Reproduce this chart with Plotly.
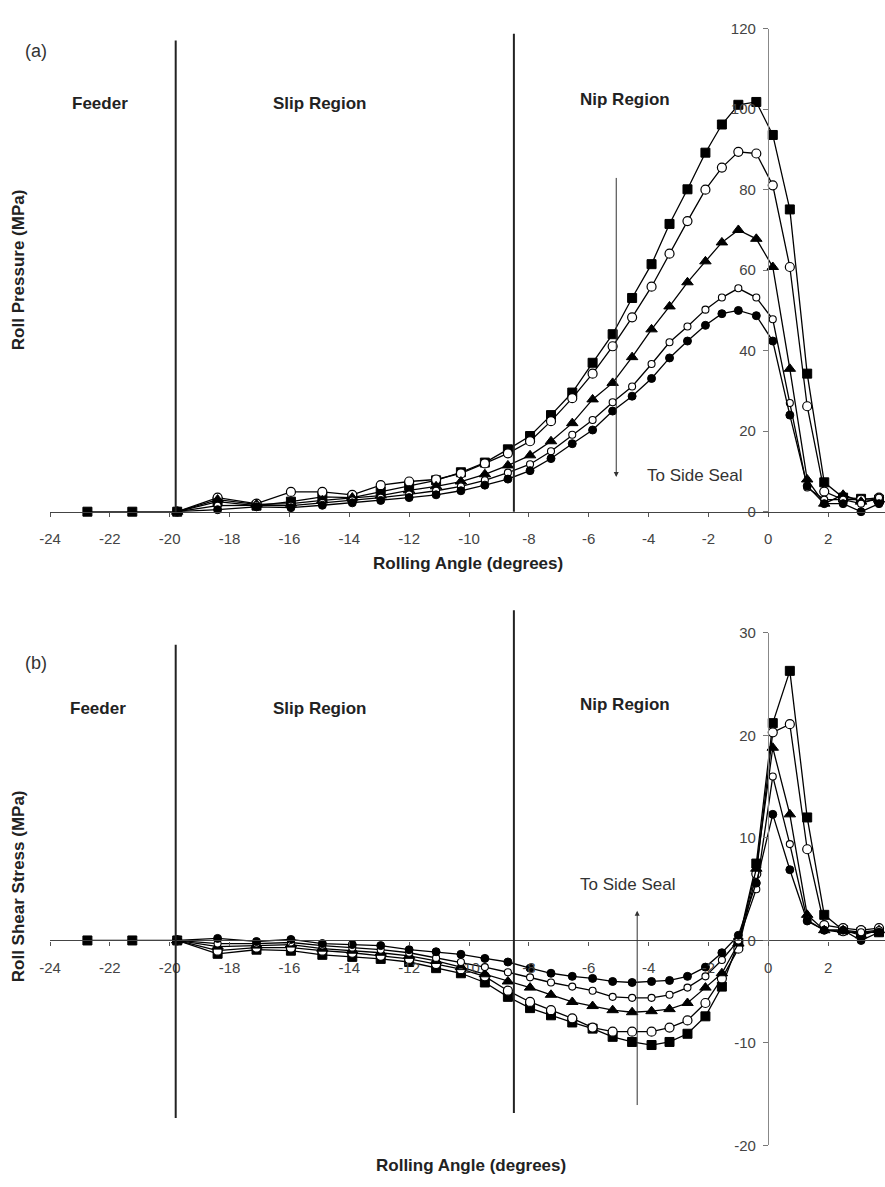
import plotly.graph_objects as go

# ---------------- data ----------------
# rolling angle sample positions (degrees)
angle_all = [-22.75, -21.25, -19.75, -18.4, -17.1, -15.95, -14.9, -13.9, -12.95, -12.0,
             -11.1, -10.27, -9.47, -8.7, -7.96, -7.26, -6.55, -5.87, -5.2, -4.55,
             -3.9, -3.3, -2.7, -2.1, -1.55, -1.0, -0.4, 0.15, 0.72, 1.3,
             1.87, 2.5, 3.1, 3.7]
angle_nip = angle_all[2:]

# (a) roll pressure (MPa)
pres_sq = [0, 0, 0, 2.5, 1.5, 2.5, 3.7, 3.5, 5.0, 6.5, 7.8, 9.8, 12.2, 15.5, 18.8, 24.0,
           29.6, 37.0, 44.1, 53.1, 61.5, 71.5, 80.1, 89.2, 96.2, 101.1, 101.8, 93.6,
           75.1, 34.3, 7.3, 3.5, 3.2, 3.0]
pres_oc = [0, 3.5, 2.0, 4.9, 4.9, 4.2, 6.6, 7.5, 8.0, 9.5, 12.0, 14.5, 17.5, 22.5, 28.2,
           34.3, 41.1, 48.3, 55.9, 64.1, 72.2, 80.0, 85.5, 89.4, 89.0, 81.1, 60.8, 26.2,
           5.0, 3.0, 3.0, 3.5]
pres_tr = [0, 3.0, 1.8, 2.0, 2.8, 3.5, 4.0, 5.3, 6.3, 7.5, 9.3, 11.5, 14.0, 17.5, 22.0,
           27.9, 32.0, 38.4, 45.3, 51.0, 57.0, 62.2, 66.9, 70.0, 67.8, 60.8, 35.5, 8.0,
           2.0, 4.2, 2.5, 3.0]
pres_os = [0, 1.5, 1.6, 1.5, 2.2, 2.8, 3.5, 4.3, 5.2, 6.3, 7.8, 9.7, 11.8, 15.0, 19.1,
           22.8, 27.2, 31.1, 36.7, 42.1, 46.0, 50.2, 53.2, 55.5, 53.2, 47.8, 27.0, 6.0,
           3.0, 3.0, 2.0, 3.5]
pres_fc = [0, 0.5, 1.2, 1.0, 1.6, 2.2, 2.8, 3.5, 4.2, 5.2, 6.6, 8.1, 10.2, 13.2, 16.9,
           20.3, 25.0, 28.7, 33.1, 38.2, 42.4, 46.3, 49.2, 50.0, 48.7, 42.4, 24.0, 6.4,
           2.0, 2.0, 0.0, 2.0]

# (b) roll shear stress (MPa)
shear_sq = [0, 0, 0, -1.3, -0.9, -1.0, -1.4, -1.6, -1.8, -2.1, -2.7, -3.2, -4.1, -5.5,
            -6.6, -7.3, -8.0, -8.6, -9.4, -9.9, -10.2, -9.9, -9.1, -7.4, -4.5, -0.2, 7.5,
            21.2, 26.3, 12.0, 2.5, 1.0, 0.8, 0.8]
shear_oc = [0, -1.0, -0.7, -0.7, -1.0, -1.2, -1.5, -1.8, -2.3, -2.8, -3.5, -4.9, -6.0,
            -6.8, -7.6, -8.5, -8.9, -8.9, -8.9, -8.5, -7.8, -6.1, -3.7, -0.8, 6.5, 20.3,
            21.1, 8.9, 1.5, 1.2, 1.0, 1.2]
shear_tr = [0, -0.6, -0.5, -0.4, -0.8, -1.0, -1.2, -1.5, -2.0, -2.6, -3.3, -4.0, -4.6,
            -5.3, -6.0, -6.4, -6.8, -7.0, -6.9, -6.7, -6.1, -4.6, -3.2, -0.3, 7.0, 18.8,
            12.3, 2.5, 1.0, 1.0, 0.5, 1.0]
shear_os = [0, -0.3, -0.3, -0.2, -0.5, -0.7, -0.9, -1.2, -1.7, -2.1, -2.6, -3.1, -3.6,
            -4.1, -4.5, -4.9, -5.5, -5.6, -5.6, -5.3, -4.6, -3.5, -1.9, 0.0, 5.0, 16.0,
            9.4, 2.0, 1.0, 0.8, 0.8, 1.0]
shear_fc = [0, 0.2, -0.1, 0.1, -0.3, -0.4, -0.5, -0.9, -1.1, -1.35, -1.75, -2.1, -2.7,
            -3.2, -3.5, -3.7, -4.0, -4.1, -4.0, -3.9, -3.5, -2.6, -1.2, 0.5, 5.6, 12.3,
            6.9, 1.9, 1.0, 1.0, 0.0, 0.8]

x_ticks = list(range(-24, 5, 2))
x_ticktext = [str(v) for v in x_ticks]          # plain hyphen minus as in the original
ya_ticks = list(range(0, 121, 20))
yb_ticks = list(range(-20, 31, 10))
yb_ticktext = [str(v) for v in yb_ticks]
region_x = [-19.8, -8.5]   # boundaries feeder/slip and slip/nip
arrow_a_x = -5.08
arrow_b_x = -4.38

# ---------------- figure ----------------
W, H = 885, 1187
ML = 50
PW = W - ML
FONT = "Liberation Sans, Arial, sans-serif"


def px(x):
    return (x - ML) / PW


def py(y):
    return (H - y) / H


fig = go.Figure()

styles = [
    dict(symbol="square", size=9, color="black", line=dict(color="black", width=1)),
    dict(symbol="circle", size=9, color="white", line=dict(color="black", width=1.2)),
    dict(symbol="triangle-up", size=10, color="black", line=dict(color="black", width=1)),
    dict(symbol="circle", size=7, color="white", line=dict(color="black", width=1.1)),
    dict(symbol="circle", size=8, color="black", line=dict(color="black", width=1)),
]

series_a = [(angle_all, pres_sq), (angle_nip, pres_oc), (angle_nip, pres_tr),
            (angle_nip, pres_os), (angle_nip, pres_fc)]
series_b = [(angle_all, shear_sq), (angle_nip, shear_oc), (angle_nip, shear_tr),
            (angle_nip, shear_os), (angle_nip, shear_fc)]

for (xs, ys), st in zip(series_a, styles):
    fig.add_trace(go.Scatter(x=xs, y=ys, mode="lines+markers", xaxis="x", yaxis="y",
                             line=dict(color="black", width=1.3), marker=st,
                             cliponaxis=False, showlegend=False))
for (xs, ys), st in zip(series_b, styles):
    fig.add_trace(go.Scatter(x=xs, y=ys, mode="lines+markers", xaxis="x2", yaxis="y2",
                             line=dict(color="black", width=1.3), marker=st,
                             cliponaxis=False, showlegend=False))

tickfont = dict(family=FONT, size=15, color="#444")
xcommon = dict(range=[-24, 3.9], tickvals=x_ticks, ticktext=x_ticktext, ticks="outside",
               ticklen=4, tickcolor="#555", showline=True, linecolor="#444",
               linewidth=1.3, showgrid=False, zeroline=False, tickfont=tickfont,
               ticklabelstandoff=9, domain=[0, 1])
ycommon = dict(anchor="free", position=px(768), ticks="outside", ticklen=5,
               tickcolor="#777", showline=True, linecolor="#888", linewidth=1.2,
               showgrid=False, zeroline=False, tickfont=tickfont, ticklabelstandoff=4)

fig.update_layout(
    width=W, height=H,
    margin=dict(l=ML, r=0, t=0, b=0),
    paper_bgcolor="white", plot_bgcolor="white",
    showlegend=False,
    xaxis=dict(anchor="y", **xcommon),
    yaxis=dict(domain=[py(510), py(20)], range=[0, 120], tickvals=ya_ticks, **ycommon),
    xaxis2=dict(anchor="free", position=py(945), **xcommon),
    yaxis2=dict(domain=[py(1153), py(633)], range=[-20, 30], tickvals=yb_ticks,
                ticktext=yb_ticktext, **ycommon),
)

# region boundary lines
fig.add_shape(type="line", xref="x", yref="paper", x0=region_x[0], x1=region_x[0],
              y0=py(510), y1=py(32), line=dict(color="#222", width=2))
fig.add_shape(type="line", xref="x", yref="paper", x0=region_x[1], x1=region_x[1],
              y0=py(510), y1=py(25), line=dict(color="#222", width=2))
fig.add_shape(type="line", xref="x2", yref="paper", x0=region_x[0], x1=region_x[0],
              y0=py(1125), y1=py(645), line=dict(color="#222", width=2))
fig.add_shape(type="line", xref="x2", yref="paper", x0=region_x[1], x1=region_x[1],
              y0=py(1120), y1=py(610), line=dict(color="#222", width=2))

# arrows
fig.add_annotation(x=arrow_a_x, y=8.6, ax=arrow_a_x, ay=83.3, xref="x", yref="y",
                   axref="x", ayref="y", text="", showarrow=True, arrowhead=2,
                   arrowsize=1, arrowwidth=1, arrowcolor="#333")
fig.add_annotation(x=arrow_b_x, y=2.9, ax=arrow_b_x, ay=-16.2, xref="x2", yref="y2",
                   axref="x2", ayref="y2", text="", showarrow=True, arrowhead=2,
                   arrowsize=1, arrowwidth=1, arrowcolor="#333")

bold = dict(family=FONT, size=17, color="#222")
reg = dict(family=FONT, size=17, color="#333")


def label(text, x, y, font, angle=0):
    fig.add_annotation(x=px(x), y=py(y), xref="paper", yref="paper", text=text,
                       showarrow=False, font=font, textangle=angle,
                       xanchor="center", yanchor="middle")


label("(a)", 36, 43, dict(family=FONT, size=18, color="#333"))
label("(b)", 36, 663, dict(family=FONT, size=18, color="#333"))
label("<b>Feeder</b>", 100, 96, bold)
label("<b>Slip Region</b>", 320, 96, bold)
label("<b>Nip Region</b>", 625, 92, bold)
label("<b>Feeder</b>", 98, 710, bold)
label("<b>Slip Region</b>", 320, 710, bold)
label("<b>Nip Region</b>", 625, 706, bold)
label("To Side Seal", 694, 473, reg)
label("To Side Seal", 627, 888, reg)
label("<b>Rolling Angle (degrees)</b>", 468, 563, bold)
label("<b>Rolling Angle (degrees)</b>", 471, 1173, bold)
label("<b>Roll Pressure (MPa)</b>", 18, 265, bold, -90)
label("<b>Roll Shear Stress (MPa)</b>", 18, 890, bold, -90)

fig.write_html("out.html")
